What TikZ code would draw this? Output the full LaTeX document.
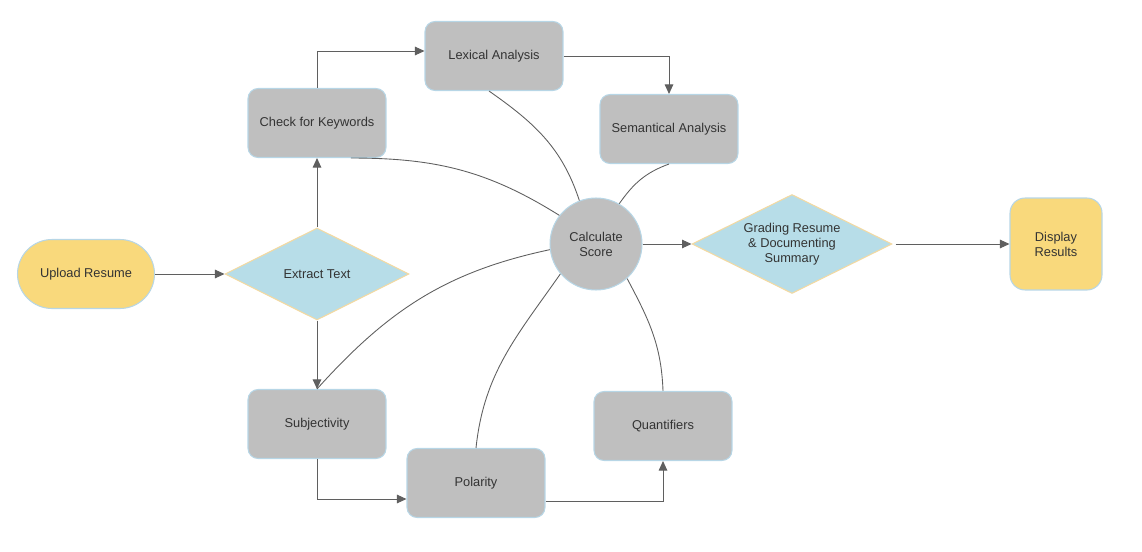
\documentclass[tikz,border=0pt]{standalone}
\usepackage{fontspec}
\setmainfont{Liberation Sans}
\usetikzlibrary{shapes.geometric,shapes.misc,arrows.meta,calc}
\definecolor{boxgray}{HTML}{BFBFBF}
\definecolor{boxedge}{HTML}{B7D6E6}
\definecolor{yel}{HTML}{F9D97C}
\definecolor{lblue}{HTML}{B7DDE8}
\definecolor{dedge}{HTML}{F3D9A2}
\definecolor{linec}{HTML}{5F5F5F}
\definecolor{txt}{HTML}{333333}
\tikzset{
  base/.style={font=\fontsize{7.3}{8.5}\selectfont, text=txt, align=center, line width=0.6pt, inner sep=0pt},
  graybox/.style={base, rectangle, rounded corners=0.2cm, fill=boxgray, draw=boxedge, minimum width=2.76cm, minimum height=1.38cm},
  stadium/.style={base, rounded rectangle, fill=yel, draw=boxedge, minimum width=2.74cm, minimum height=1.38cm},
  yelbox/.style={base, rectangle, rounded corners=0.3cm, fill=yel, draw=boxedge, minimum width=1.84cm, minimum height=1.84cm},
  dia/.style={base, diamond, aspect=2, fill=lblue, draw=dedge},
  circ/.style={base, circle, fill=boxgray, draw=boxedge, minimum size=1.84cm},
  arr/.style={draw=linec, line width=0.55pt, -{Triangle[length=0.19cm,width=0.17cm]}},
  link/.style={draw=linec, line width=0.5pt}
}
\begin{document}
\begin{tikzpicture}[x=0.02cm,y=-0.02cm]
\useasboundingbox (0,0) rectangle (1142,551);
\node[stadium] (up) at (86,274) {Upload Resume};
\node[dia, minimum width=3.68cm, minimum height=1.84cm] (ext) at (317,274) {Extract Text};
\node[graybox] (chk) at (317,123) {Check for Keywords};
\node[graybox] (lex) at (494,56) {Lexical Analysis};
\node[graybox] (sem) at (669,129) {Semantical Analysis};
\node[circ] (cs) at (596,244) {Calculate\\Score};
\node[dia, minimum width=4.0cm, minimum height=1.98cm] (gr) at (792,244) {Grading Resume\\\& Documenting\\Summary};
\node[yelbox] (disp) at (1056,244) {Display\\Results};
\node[graybox] (subj) at (317,424) {Subjectivity};
\node[graybox] (pol) at (476,483) {Polarity};
\node[graybox] (qua) at (663,426) {Quantifiers};

\draw[arr] (up.east) -- (ext.west);
\draw[arr] (ext.north) -- (chk.south);
\draw[arr] (chk.north) |- ([yshift=0.1cm]lex.west);
\draw[arr] (lex.east) -| (sem.north);
\draw[arr] (ext.south) -- (subj.north);
\draw[arr] (subj.south) |- ([yshift=-0.32cm]pol.west);
\draw[arr] ([yshift=-0.36cm]pol.east) -| (qua.south);
\draw[arr] (cs.east) -- (gr.west);
\draw[arr] ([xshift=0.06cm]gr.east) -- (disp.west);

\draw[link] ([xshift=0.68cm]chk.south) to[out=0,in=148] (cs.142);
\draw[link] ([xshift=-0.1cm]lex.south) to[out=-35,in=108] (cs.111);
\draw[link] (sem.south) to[out=200,in=55] (cs.60);
\draw[link] (cs.187) to[out=192,in=48] (subj.north);
\draw[link] (cs.220) to[out=235,in=84] (pol.north);
\draw[link] (cs.312) to[out=-62,in=92] (qua.north);
\end{tikzpicture}
\end{document}
